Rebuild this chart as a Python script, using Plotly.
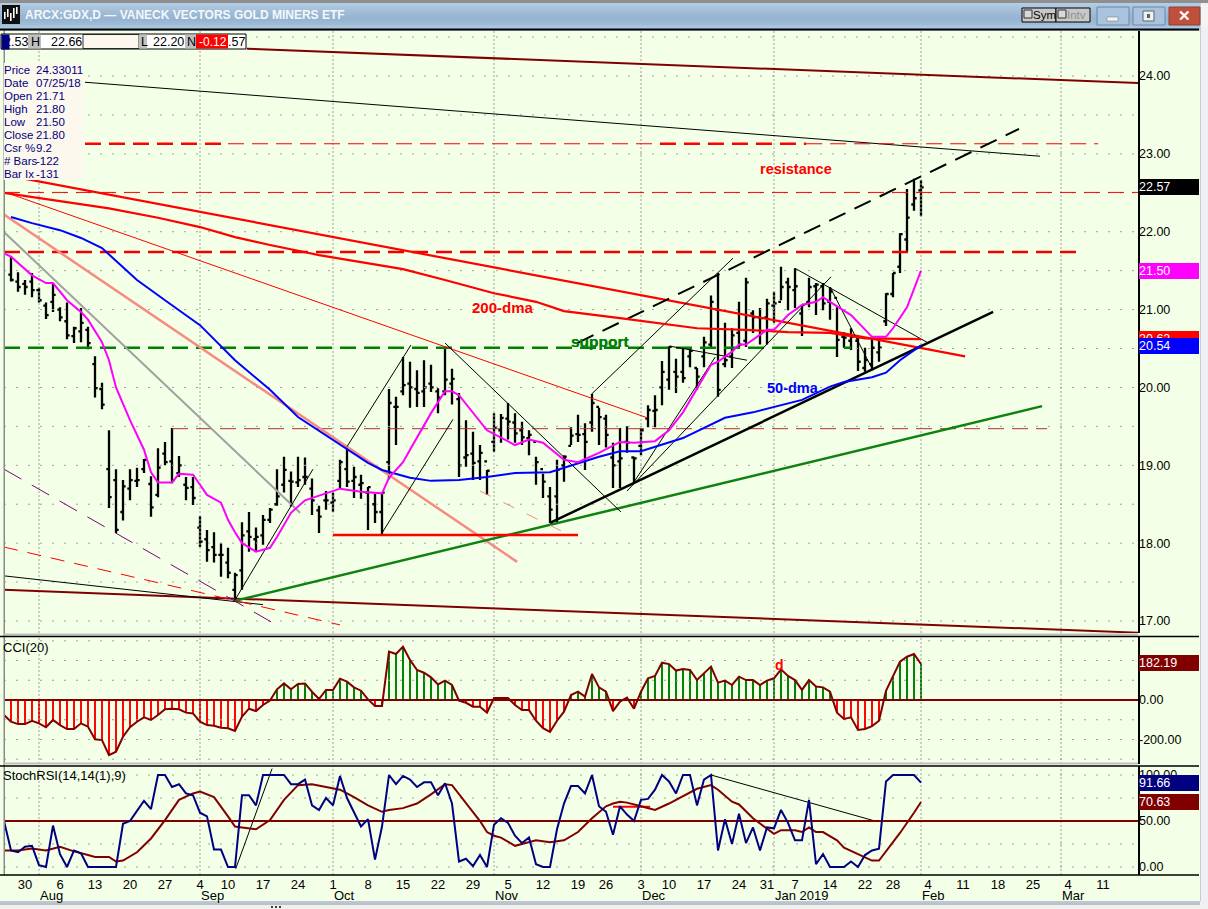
import plotly.graph_objects as go

W, H = 1208, 909
FONT = "Liberation Sans"

# ---------------- data: bar index 1..131 ----------------
highs = [21.68,21.48,21.38,21.47,21.28,21.09,21.34,21.03,21.09,20.78,21.02,20.78,20.40,20.06,19.45,18.95,18.81,18.95,18.97,19.08,
18.86,19.22,19.30,19.48,19.12,18.85,18.85,18.35,18.17,18.14,18.00,17.94,17.62,18.27,18.40,18.20,18.36,18.45,18.95,19.11,
18.92,19.11,19.10,18.83,18.48,18.67,18.65,19.07,19.24,18.98,18.88,18.72,18.63,18.65,19.98,19.88,20.39,20.33,20.22,20.35,
20.29,19.99,20.51,20.24,19.93,19.58,19.43,19.26,18.94,19.67,19.66,19.80,19.67,19.56,19.45,19.11,18.89,18.72,19.07,19.13,
19.49,19.65,19.54,19.92,19.74,19.65,19.29,19.48,19.50,19.11,19.48,19.77,19.90,20.34,20.53,20.37,20.50,20.50,20.25,20.65,
21.18,21.47,20.83,20.76,21.10,21.41,20.99,21.02,21.14,21.23,21.55,21.41,21.53,21.06,21.41,21.34,21.34,21.29,21.03,20.71,
20.76,20.64,20.51,20.64,20.64,21.21,21.47,21.98,22.55,22.68,22.66]
lows = [21.36,21.23,21.19,21.16,21.09,20.88,20.97,20.85,20.62,20.57,20.58,20.49,19.87,19.72,18.45,18.13,18.29,18.55,18.72,18.90,
18.34,18.59,19.00,18.77,18.85,18.55,18.49,17.95,17.76,17.75,17.57,17.55,17.25,17.40,17.89,17.89,17.98,18.26,18.48,18.65,
18.47,18.72,18.75,18.36,18.13,18.43,18.40,18.71,18.72,18.58,18.57,18.17,18.26,18.11,18.82,19.26,19.90,19.74,19.75,19.75,
19.94,19.67,19.90,19.78,18.85,18.98,18.81,18.81,18.62,19.17,19.29,19.33,19.29,19.26,19.13,18.75,18.58,18.26,18.27,18.79,
19.26,19.30,18.94,19.43,19.26,19.23,18.71,18.71,19.16,18.77,19.13,19.49,19.49,19.77,19.97,19.93,20.06,20.26,19.97,20.26,
20.51,19.88,20.26,20.25,20.51,20.52,20.70,20.55,20.55,20.83,21.12,20.99,21.02,20.66,21.03,20.93,20.99,20.87,20.39,20.51,
20.48,20.21,20.20,20.23,20.33,20.79,21.16,21.47,21.74,22.27,22.20]
closes = [21.38,21.29,21.29,21.25,21.12,20.93,21.19,20.90,20.67,20.76,20.83,20.57,19.99,19.78,18.59,18.17,18.73,18.81,18.81,19.07,
18.46,18.97,19.04,18.81,19.00,18.71,18.58,18.02,17.91,17.85,17.85,17.62,17.59,18.10,18.08,18.08,18.30,18.43,18.60,18.94,
18.79,18.81,18.85,18.55,18.34,18.55,18.55,19.04,18.79,18.85,18.77,18.72,18.40,18.65,19.80,19.75,20.03,20.00,19.93,20.00,
20.00,19.87,20.10,20.11,19.00,19.13,19.03,19.16,18.93,19.48,19.61,19.56,19.41,19.36,19.39,19.04,18.79,18.43,18.94,19.11,
19.38,19.39,19.30,19.80,19.62,19.39,19.00,19.09,19.29,19.09,19.45,19.71,19.71,20.20,20.52,20.14,20.12,20.47,20.14,20.58,
21.10,19.97,20.35,20.67,20.55,21.35,20.90,20.89,21.08,21.08,21.29,21.29,21.30,21.06,21.29,21.32,21.08,21.23,20.61,20.64,
20.65,20.33,20.35,20.51,20.51,21.20,21.47,21.97,22.18,22.43,22.57]
opens = [21.45,21.36,21.33,21.36,21.25,21.05,21.10,21.00,20.85,20.66,20.72,20.74,20.30,19.98,18.95,18.81,18.40,18.70,18.80,18.95,
18.76,18.62,19.15,19.05,18.90,18.75,18.72,18.20,18.05,17.95,17.85,17.75,17.40,17.65,18.15,18.05,18.10,18.30,18.50,18.75,
18.80,18.78,18.85,18.70,18.42,18.55,18.52,18.80,18.95,18.80,18.75,18.65,18.50,18.40,19.04,19.75,19.95,20.05,19.98,19.95,
20.05,19.95,19.95,20.05,19.85,19.10,19.15,19.05,19.05,19.30,19.45,19.60,19.55,19.45,19.35,19.30,18.95,18.60,18.60,19.00,
19.25,19.40,19.40,19.55,19.75,19.60,19.10,19.05,19.30,19.10,19.25,19.60,19.70,20.00,20.10,20.20,20.20,20.40,20.25,20.40,
20.55,21.00,20.30,20.40,20.70,20.60,20.95,20.90,20.90,21.05,21.10,21.35,21.25,20.95,21.10,21.30,21.30,21.10,21.15,20.65,
20.60,20.60,20.25,20.30,20.45,20.85,21.20,21.55,21.90,22.35,22.53]
assert len(highs) == len(lows) == len(closes) == len(opens) == 131

ma10_x = [0,1,4,6,7,9,11,12,14,15,16,18,20,21,22,24,25,27,28,29,31,32,33,34,36,38,39,41,43,46,48,51,54,55,57,58,61,63,64,65,69,73,75,77,80,82,85,88,90,93,95,97,101,102,104,105,106,109,110,112,114,116,117,118,121,124,126,127,129,131]
ma10_y = [21.72,21.68,21.44,21.34,21.34,21.12,20.97,20.87,20.58,20.35,20.00,19.58,19.20,18.91,18.78,18.78,18.89,18.88,18.75,18.62,18.52,18.30,18.14,18.00,17.89,17.94,18.08,18.39,18.55,18.64,18.70,18.66,18.64,18.84,19.04,19.20,19.67,19.95,19.95,19.90,19.45,19.26,19.33,19.29,19.07,19.04,19.16,19.30,19.29,19.31,19.45,19.68,20.29,20.33,20.46,20.55,20.55,20.74,20.74,20.93,21.06,21.10,21.16,21.10,20.93,20.65,20.65,20.76,21.03,21.50]
ma50_x = [1,4,8,11,14,19,23,28,33,38,42,47,52,54,58,61,65,69,73,78,80,85,88,91,97,100,103,107,110,114,118,120,124,126,128,131]
ma50_y = [22.19,22.11,22.02,21.92,21.79,21.38,21.12,20.80,20.35,19.97,19.62,19.33,19.03,18.94,18.84,18.80,18.81,18.85,18.90,18.91,18.97,19.11,19.18,19.18,19.35,19.48,19.61,19.68,19.75,19.84,20.01,20.07,20.13,20.19,20.35,20.54]
ma200_x = [0,9,15,22,28,33,38,45,52,57,63,70,76,80,88,93,99,106,112,118,123,131]
ma200_y = [22.50,22.38,22.30,22.18,22.06,21.93,21.83,21.70,21.60,21.52,21.38,21.21,21.10,20.98,20.89,20.83,20.76,20.74,20.71,20.70,20.63,20.62]

cci = [-76,-110,-122,-122,-105,-118,-138,-101,-127,-147,-147,-118,-135,-199,-203,-279,-262,-186,-138,-110,-88,-101,-76,-47,-44,-47,-64,-68,-110,-127,-130,-140,-143,-157,-84,-44,-56,-25,-3,54,84,54,81,84,42,5,51,51,108,93,64,47,3,-30,-30,245,233,270,203,152,138,115,79,98,76,-3,-14,-34,
-34,-64,10,10,10,-25,-51,-51,-105,-143,-162,-105,-59,25,42,17,132,64,42,-56,-8,12,-44,42,110,122,189,182,149,157,152,101,135,169,88,98,76,118,101,101,76,98,110,155,122,101,51,101,68,64,42,-64,-96,-88,-152,-147,-132,-105,46,118,194,219,233,182.19]
assert len(cci) == 132

stoch = [50,18,16,22,23,2,0,45,14,0,18,15,0,0,0,0,0,47,50,61,72,63,100,100,87,90,80,78,59,55,19,19,0,0,78,78,67,100,100,100,100,90,90,95,67,62,75,67,99,75,60,44,52,8,44,100,90,99,95,87,92,92,78,91,69,6,9,1,
13,0,46,53,48,34,26,32,3,0,0,41,69,88,88,80,100,66,60,35,66,57,50,73,74,84,100,93,80,100,100,67,95,100,18,52,25,58,26,43,18,43,42,62,48,29,29,73,3,14,0,0,0,6,0,13,18,20,93,100,100,100,100,91.66]
assert len(stoch) == 132
signal_x = [0,2,4,6,8,10,12,13,15,16,17,19,21,23,25,27,28,30,32,33,34,36,38,40,42,44,46,48,50,52,54,55,57,59,61,63,64,66,68,69,70,71,73,74,76,78,80,82,84,86,87,88,89,91,92,93,95,97,99,101,102,104,105,107,109,110,111,113,114,115,116,117,119,120,122,124,125,126,128,130,131]
signal_y = [18,18,20,18,22,17,13,11,11,6,7,16,31,51,73,80,82,76,55,44,43,41,51,73,89,90,87,84,76,67,60,62,64,69,79,90,89,69,50,38,34,32,23,25,29,27,29,38,53,66,69,71,70,66,64,62,69,77,85,89,84,71,68,53,42,36,40,40,38,43,38,38,29,21,14,7,7,17,37,59,70.63]

day_ticks = [3,8,13,18,23,28,32,37,42,47,52,57,62,67,72,77,82,86,91,95,100,105,109,113,118,123,127,132,137,142,147,152,157]
day_labels = ["30","6","13","20","27","4","10","17","24","1","8","15","22","29","5","12","19","26","3","10","17","24","31","7","14","22","28","4","11","18","25","4","11"]
month_ticks = [5,28,47,70,91,110,131,151]
month_labels = ["Aug","Sep","Oct","Nov","Dec","Jan 2019","Feb","Mar"]
price_ticks = [17,18,19,20,21,22,23,24]
price_half = [17,17.5,18,18.5,19,19.5,20,20.5,21,21.5,22,22.5,23,23.5,24,24.5]
cci_ticks = [-200,0,200]
cci_grid = [-300,-200,-100,0,100,200,300]
stoch_ticks = [0,50,100]
stoch_grid = [0,25,50,75,100]

# drawn lines: bar index pairs and price pairs
LINES = {
 "channel_top": ([34.7,162],[24.35,23.91]),
 "channel_bot": ([0,162],[17.40,16.85]),
 "thin_top": ([11.57,148],[23.92,22.97]),
 "res_a": ([11.57,32],[23.13,23.13]),
 "res_b": ([32,93.7],[23.13,23.13]),
 "res_c": ([93.7,114.6],[23.13,23.13]),
 "res_d": ([114.6,156.3],[23.13,23.13]),
 "h2250": ([0,162],[22.505,22.505]),
 "h2174": ([0,153.2],[21.74,21.74]),
 "support": ([0,121],[20.51,20.51]),
 "h1947": ([24,149],[19.47,19.47]),
 "red_trend": ([0,137.3],[22.73,20.40]),
 "red_thin": ([0.4,91.9],[22.50,19.61]),
 "salmon": ([0,73.3],[22.22,17.76]),
 "gray": ([0,42.3],[21.996,18.39]),
 "green": ([33,148.3],[17.26,19.76]),
 "black_up": ([78,141.3],[18.26,20.97]),
 "black_dash": ([81.9,145],[20.57,23.32]),
 "red_base": ([47,82],[18.105,18.105]),
 "salmon_ext": ([68,80],[18.67,18.14]),
 "t1": ([33,44.14],[17.27,18.95]),
 "t2": ([54,64.14],[18.13,19.59]),
 "t3": ([49,58.14],[19.24,20.545]),
 "t4": ([63,88.14],[20.57,18.40]),
 "t5": ([84,104.14],[19.92,21.66]),
 "t6": ([89,118.14],[18.67,21.42]),
 "t7": ([90,101.6],[18.785,20.39]),
 "t8": ([95.14,106.14],[20.53,20.35]),
 "t9": ([113,131.86],[21.53,20.58]),
 "t10": ([118,124.14],[21.29,20.22]),
 "fan_black": ([0,37],[17.58,17.21]),
 "fan_purple": ([0,38.14],[18.95,16.99]),
 "fan_red": ([0,48],[17.95,16.95]),
}
STOCH_LINES = {
 "s1": ([101,124.2],[100,50.5]),
 "s2": ([33.1,38.3],[-2,107]),
 "s3": ([87,92.3],[65.6,65.6]),
}
THIN = dict(color="black", width=1)
STYLES = {
 "channel_top": dict(color="#800000", width=2),
 "channel_bot": dict(color="#800000", width=2),
 "thin_top": THIN,
 "res_a": dict(color="#ff0000", width=2.5, dash="16px,8px"),
 "res_b": dict(color="#ff0000", width=1, dash="16px,8px"),
 "res_c": dict(color="#ff0000", width=2.5, dash="16px,8px"),
 "res_d": dict(color="#ff0000", width=1, dash="16px,8px"),
 "h2250": dict(color="#ff0000", width=1, dash="16px,8px"),
 "h2174": dict(color="#ee0000", width=2.5, dash="16px,8px"),
 "support": dict(color="#008000", width=2.5, dash="16px,8px"),
 "h1947": dict(color="#b03030", width=1, dash="16px,8px"),
 "red_trend": dict(color="#ff0000", width=2.2),
 "red_thin": dict(color="#ff0000", width=1),
 "salmon": dict(color="#f88a80", width=2.5),
 "gray": dict(color="#a0a0a0", width=2),
 "green": dict(color="#108010", width=2.5),
 "black_up": dict(color="black", width=2.5),
 "black_dash": dict(color="black", width=2, dash="18px,10px"),
 "red_base": dict(color="#ff0000", width=2.5),
 "salmon_ext": dict(color="#f88a80", width=1, dash="12px,14px"),
 "fan_purple": dict(color="#800080", width=1, dash="20px,12px"),
 "fan_red": dict(color="#ff0000", width=1, dash="14px,10px"),
}

def X(px): return px / W
def Y(py): return 1 - py / H

BG = "#f3ffe6"
GRID = "#a0a0a0"

fig = go.Figure()
# dotted grid, drawn first so every other line sits on top of it
PANELS = (("x", "y", price_half, [16.846, 24.591]), ("x2", "y2", cci_grid, [-324, 319]), ("x3", "y3", stoch_grid, [-8.7, 109.8]))
for xa, ya, vals, rng in PANELS:
    for v in vals:
        fig.add_trace(go.Scatter(x=[0, 162], y=[v, v], mode="lines", line=dict(color=GRID, width=1, dash="2px,10px"),
                                 xaxis=xa, yaxis=ya, hoverinfo="skip"))
    for m in month_ticks:
        fig.add_trace(go.Scatter(x=[m, m], y=rng, mode="lines", line=dict(color=GRID, width=1, dash="2px,2px"),
                                 xaxis=xa, yaxis=ya, hoverinfo="skip"))

BAR_IDX = list(range(1, 132))
fig.add_trace(go.Ohlc(x=BAR_IDX, open=opens, high=highs, low=lows, close=closes, tickwidth=0.38,
    increasing=dict(line=dict(color="black", width=2.3)), decreasing=dict(line=dict(color="black", width=2.3)),
    xaxis="x", yaxis="y", hoverinfo="skip"))
for name, (xs, ys) in LINES.items():
    fig.add_trace(go.Scatter(x=xs, y=ys, mode="lines", line=STYLES.get(name, THIN), xaxis="x", yaxis="y", hoverinfo="skip"))
fig.add_trace(go.Scatter(x=ma200_x, y=ma200_y, mode="lines", line=dict(color="#ff0000", width=2.2), hoverinfo="skip"))
fig.add_trace(go.Scatter(x=ma50_x, y=ma50_y, mode="lines", line=dict(color="#0000ff", width=2), hoverinfo="skip"))
fig.add_trace(go.Scatter(x=ma10_x, y=ma10_y, mode="lines", line=dict(color="#ff00ff", width=2), hoverinfo="skip"))

cci_x = list(range(len(cci)))
fig.add_trace(go.Bar(x=cci_x, y=cci, width=0.28, marker=dict(color=["#008000" if v > 0 else "#ff0000" for v in cci], line=dict(width=0)),
    xaxis="x2", yaxis="y2", hoverinfo="skip"))
fig.add_trace(go.Scatter(x=[0,162], y=[0,0], mode="lines", line=dict(color="#800000", width=2), xaxis="x2", yaxis="y2", hoverinfo="skip"))
fig.add_trace(go.Scatter(x=cci_x, y=cci, mode="lines", line=dict(color="#800000", width=2), xaxis="x2", yaxis="y2", hoverinfo="skip"))

st_x = list(range(len(stoch)))
for name, (xs, ys) in STOCH_LINES.items():
    st = dict(color="#ff0000", width=2) if name == "s3" else THIN
    fig.add_trace(go.Scatter(x=xs, y=ys, mode="lines", line=st, xaxis="x3", yaxis="y3", hoverinfo="skip"))
fig.add_trace(go.Scatter(x=[0,162], y=[50,50], mode="lines", line=dict(color="#800000", width=2), xaxis="x3", yaxis="y3", hoverinfo="skip"))
fig.add_trace(go.Scatter(x=signal_x, y=signal_y, mode="lines", line=dict(color="#800000", width=2), xaxis="x3", yaxis="y3", hoverinfo="skip"))
fig.add_trace(go.Scatter(x=st_x, y=stoch, mode="lines", line=dict(color="#000080", width=2), xaxis="x3", yaxis="y3", hoverinfo="skip"))

TF = dict(family=FONT, size=12.5, color="black")
def xax(anchor, **kw):
    d = dict(domain=[X(4), X(1138)], range=[0, 162], anchor=anchor, showgrid=False, zeroline=False, showline=False,
             tickmode="array", tickvals=[], fixedrange=True)
    d.update(kw)
    return d
def yax(anchor, top, bot, rng, ticks, labels):
    return dict(domain=[Y(bot), Y(top)], range=rng, anchor=anchor, side="right", showgrid=False, zeroline=False,
                showline=True, linecolor="black", linewidth=1.5, tickmode="array", tickvals=ticks, ticktext=labels,
                ticks="", ticklen=0, ticklabelstandoff=-3, tickfont=TF, fixedrange=True)

# ---------------- chrome ----------------
shapes = []
def rect(x0, y0, x1, y1, fill, line=None, lw=1):
    shapes.append(dict(type="rect", xref="paper", yref="paper", x0=X(x0), x1=X(x1), y0=Y(y0), y1=Y(y1),
                       fillcolor=fill, line=dict(color=line or fill, width=lw if line else 0), layer="above"))
def hline(x0, x1, y, color="black", w=1.5):
    shapes.append(dict(type="line", xref="paper", yref="paper", x0=X(x0), x1=X(x1), y0=Y(y), y1=Y(y), line=dict(color=color, width=w), layer="above"))

rect(0, 0, 1208, 3, "#8f8f8f")
grad = ["#b2cce3","#adc8e0","#a8c4dd","#a4c0da","#a0bcd7","#9cb9d5","#99b6d3","#97b4d2","#97b4d2","#9ab7d4","#9fbcd7","#a6c2dc","#aecae1","#b6d0e6"]
for k, c in enumerate(grad):
    rect(0, 3 + k * 2, 1208, 3 + (k + 1) * 2, c)
rect(3.5, 30, 5, 875, "#8a8a8a")
rect(1200, 3, 1208, 909, "#eef0f3")
rect(1200, 3, 1201, 909, "#c8ccd0")
rect(1201, 5, 1208, 27, "#f4f4f4")
rect(0, 901, 1208, 909, "#f0f0f0")
hline(0, 1200, 902, "#b8c8dc", 2)
hline(0, 1200, 904, "#909090", 1)
rect(271, 906, 273, 908, "#404040"); rect(275, 906, 277, 908, "#404040"); rect(279, 906, 281, 908, "#404040")

hline(0, 1199, 29.5, "black", 2)
hline(4, 1138, 634.5, "#c0c0c0", 2)
hline(0, 1199, 636.5, "black", 1.5)
hline(4, 1138, 763.5, "#c0c0c0", 2)
hline(0, 1199, 766, "black", 1.5)
hline(0, 1199, 875, "black", 1.5)

# icon
rect(2, 5, 20, 24, "#101010")
for a, b, c in [(4, 12, 19), (7, 9, 17), (10, 13, 21), (13, 8, 18), (16, 7, 14)]:
    rect(a, b, a + 1.6, c, "white")

# Sym / Intv
rect(1022, 8, 1056, 22, "#c8c8c8", "black", 1)
rect(1056, 8, 1090, 22, "#c8c8c8", "black", 1)
rect(1024, 10, 1032, 18, "#d8d8d8", "#303030", 1)
rect(1058, 10, 1066, 18, "#d8d8d8", "#303030", 1)
# window buttons
rect(1097, 7, 1129, 25, "#a9c3de", "#6d88a6", 1)
rect(1133, 7, 1165, 25, "#a9c3de", "#6d88a6", 1)
rect(1169, 7, 1200, 25, "#c0503c", "#8d4036", 1)
rect(1107, 17, 1118, 21, "#f4f4f4", "#6d6d6d", 0.5)
rect(1143, 11, 1154, 21, "#f0f0f0", "#5a6470", 1)
rect(1147, 14, 1150, 18, "#5a6470")

# header row
rect(1, 34, 246, 49, "white", "black", 1)
rect(28, 34.5, 41, 48.5, "#c0c0c0")
rect(83, 34.5, 139, 48.5, "#fdf8ee", "black", 0.8)
rect(139, 34.5, 147, 48.5, "#c0c0c0")
rect(185, 34.5, 196, 48.5, "#c0c0c0")
rect(196, 34.5, 228, 48.5, "#ff0000")
# info box
rect(4, 63, 83, 180, "#fdf8ee")

annotations = []
def txt(px, py, s, color="black", size=13, bold=False, anchor="left", yanchor="middle", **kw):
    t = f"<b>{s}</b>" if bold else s
    annotations.append(dict(xref="paper", yref="paper", x=X(px), y=Y(py), text=t, showarrow=False, xanchor=anchor, yanchor=yanchor,
                            font=dict(family=FONT, size=size, color=color), borderpad=0, **kw))

txt(24, 15, "ARCX:GDX,D — VANECK VECTORS GOLD MINERS ETF", "#f4f8fb", 12, True)
txt(1032, 15, "Sym", "#000000", 11.5)
txt(1066, 15, "Intv", "#909090", 11.5)
txt(1184.5, 15.5, "✕", "white", 15, True, anchor="center")
txt(29, 42, "2.53", "black", 12.5, anchor="right")
annotations.append(dict(xref="paper", yref="paper", x=X(1), y=Y(34.5), xanchor="left", yanchor="top", text=" ", showarrow=False,
                        width=7, height=14, bgcolor="#000080", borderpad=0))
txt(29.5, 42, "H", "black", 12.5)
txt(83, 42, "22.66", "black", 12.5, anchor="right")
txt(139.5, 42, "L", "black", 12.5)
txt(185, 42, "22.20", "black", 12.5, anchor="right")
txt(185.5, 42, "N", "black", 12.5)
txt(228, 42, "-0.12", "white", 12, anchor="right")
txt(246, 42, ".57", "black", 12.5, anchor="right")
info_rows = [("Price","24.33011"),("Date","07/25/18"),("Open","21.71"),("High","21.80"),("Low","21.50"),("Close","21.80"),("Csr %","9.2"),("# Bars","-122"),("Bar Ix","-131")]
for k, (a, b) in enumerate(info_rows):
    txt(3, 70 + 13 * k, a, "#000080", 11.5)
    txt(34.5, 70 + 13 * k, b, "#000080", 11.5)

txt(471, 307, "200-dma", "#ff0000", 15, True)
txt(570, 341.5, "support", "#108060", 15.5, True)
txt(569.5, 341, "support", "#008000", 15.5, True)
txt(759, 169, "resistance", "#ff0000", 14.5, True)
txt(766, 388, "50-dma", "#0000ff", 14.5, True)
txt(779, 665, "d", "#ff0000", 14, True, anchor="center")
txt(2, 647, "CCI(20)", "black", 13)
txt(2, 775.5, "StochRSI(14,14(1),9)", "black", 13)

for i, s in zip(month_ticks, month_labels):
    txt(4 + 7 * i, 895, s, "black", 13)

# value flags (later ones cover earlier ones)
def flag(y0, y1, s, fill, fg="white"):
    annotations.append(dict(xref="paper", yref="paper", x=X(1139), y=Y(y0), xanchor="left", yanchor="top", text=s, showarrow=False,
        width=60, height=y1 - y0, align="left", bgcolor=fill, borderpad=0, borderwidth=0, font=dict(family=FONT, size=12.5, color=fg)))
flag(179, 195, "22.57", "black")
flag(263, 279, "21.50", "#ff00ff")
flag(331, 347, "20.62", "#ff0000")
flag(338, 354, "20.54", "#0000ff")
flag(655, 671, "182.19", "#800000")
flag(775, 791, "91.66", "#000080")
flag(794, 810, "70.63", "#800000")

fig.update_layout(
    width=W, height=H, autosize=False, margin=dict(l=0, r=0, t=0, b=0, pad=0), paper_bgcolor=BG, plot_bgcolor="rgba(0,0,0,0)",
    showlegend=False, hovermode=False, barmode="overlay", dragmode=False,
    xaxis=xax("y", rangeslider=dict(visible=False)),
    xaxis2=xax("y2"),
    xaxis3=xax("y3", tickvals=day_ticks, ticktext=day_labels, tickfont=dict(family=FONT, size=13, color="black"), ticks="", tickangle=0),
    yaxis=yax("x", 30, 633, [16.846, 24.591], price_ticks, [f"{v:.2f}" for v in price_ticks]),
    yaxis2=yax("x2", 637, 764, [-324, 319], cci_ticks, [f"{v:.2f}" for v in cci_ticks]),
    yaxis3=yax("x3", 766, 875, [-8.7, 109.8], stoch_ticks, [f"{v:.2f}" for v in stoch_ticks]),
    shapes=shapes, annotations=annotations,
)
fig.write_html("out.html", config=dict(displayModeBar=False, staticPlot=True),
               post_script="document.body.style.margin='0';document.body.style.overflow='hidden';")
